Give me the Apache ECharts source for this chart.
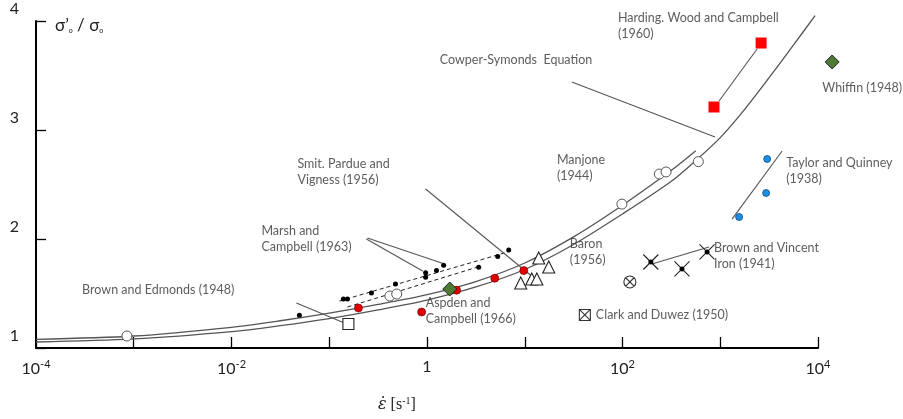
<!DOCTYPE html>
<html><head><meta charset="utf-8">
<script src="https://cdn.jsdelivr.net/npm/echarts@6/dist/echarts.min.js"></script>
<style>html,body{margin:0;padding:0;background:#fff}#c{width:903px;height:419px}</style>
</head><body><div id="c"></div>
<script>
// ---- tick labels ----
const xLabelExponents = [-4, -2, 0, 2, 4];
const yTicks = [1, 2, 3, 4];

// ---- Cowper-Symonds curves [strain rate, ratio] ----
const curveUpper = [[1e-4,1.08],[1e-3,1.11],[1e-2,1.19],[0.0316,1.25],[0.1,1.32],[0.316,1.40],[1,1.49],[3.16,1.61],[10,1.78],[31.6,2.02],[100,2.31],[316,2.63],[562,2.81]];
const curveLower = [[1e-4,1.055],[1e-3,1.083],[1e-2,1.15],[0.0316,1.205],[0.1,1.27],[0.316,1.35],[1,1.44],[3.16,1.56],[10,1.72],[31.6,1.95],[100,2.23],[316,2.53],[562,2.72],[1000,2.93],[1778,3.19],[3162,3.48],[5623,3.78],[9333,4.05]];

// ---- data points ----
const brownEdmonds = [[0.000851,1.11]];
const manjone = [[0.417,1.477],[0.490,1.495],[98.6,2.32],[238,2.596],[279,2.615],[597,2.71]];
const marshDots = [[0.0495,1.30],[0.1396,1.45],[0.1535,1.45],[0.270,1.505],[0.476,1.587],[0.968,1.69],[0.968,1.65],[1.25,1.71],[1.48,1.76],[3.38,1.74],[5.29,1.84],[6.85,1.90]];
const marshDashUpper = [[0.127,1.431],[6.70,1.881]];
const marshDashLower = [[0.1535,1.376],[3.30,1.743]];
const aspdenRed = [[0.199,1.367],[0.881,1.33],[2.01,1.53],[4.93,1.64],[9.77,1.71]];
const greenDiamonds = [[1.71,1.541],[13960,3.624]];
const baronTriangles = [[13.9,1.826],[17.6,1.743],[9.10,1.596],[11.8,1.633],[13.3,1.633]];
const openSquare = [[0.157,1.22]];
const circleCross = [[119,1.606]];
const boxCross = [[41.2,1.303]];
const brownVincent = [[195,1.789],[406,1.725],[733,1.881]];
const taylorQuinney = [[3020,2.734],[2946,2.422],[1560,2.202]];
const hardingSquares = [[2618,3.798],[863,3.211]];

// ---- leader lines ----
const leaderLines = [
  [[30.3,3.440],[885,2.936]],
  [[973,3.266],[2382,3.743]],
  [[0.968,2.459],[12.1,1.651]],
  [[0.246,2.009],[1.51,1.771]],
  [[0.240,2.0],[0.902,1.706]],
  [[0.0461,1.413],[0.143,1.229]],
  [[200,1.771],[767,1.927]],
  [[1321,2.183],[4295,2.807]]
];

// ---- annotation texts [strain rate, ratio, text] ----
const annotations = [
  [0.000296,1.532,'Brown and Edmonds (1948)'],
  [0.0202,2.0,'Marsh and\nCampbell (1963)'],
  [0.0472,2.615,'Smit. Pardue and\nVigness (1956)'],
  [1.35,3.642,'Cowper-Symonds  Equation'],
  [89.7,3.954,'Harding. Wood and Campbell\n(1960)'],
  [11040,3.385,'Whiffin (1948)'],
  [21.3,2.651,'Manjone\n(1944)'],
  [4720,2.624,'Taylor and Quinney\n(1938)'],
  [28.9,1.881,'Baron\n(1956)'],
  [863,1.844,'Brown and Vincent\nIron (1941)'],
  [0.968,1.339,'Aspden and\nCampbell (1966)'],
  [53.3,1.303,'Clark and Duwez (1950)']
];

const TXT = '#333';
const FONT = 'Lato, "Open Sans", sans-serif';

function sc(data, symbol, size, color, border, bw, z) {
  return {type:'scatter', data, symbol, symbolSize:size, clip:false, silent:true, z: z||3,
    itemStyle:{color, borderColor:border, borderWidth:bw, opacity:1}};
}
function ln(data, color, width, type, z) {
  return {type:'line', data, showSymbol:false, symbol:'none', clip:false, silent:true, z: z||2,
    lineStyle:{color, width, type: type||'solid'}};
}

const series = [];
series.push(Object.assign(ln(curveUpper,'#555',1.3),{smooth:0.3}));
series.push(Object.assign(ln(curveLower,'#555',1.3),{smooth:0.3}));
series.push(ln(marshDashUpper,'#222',1,[4,3]));
series.push(ln(marshDashLower,'#222',1,[4,3]));
leaderLines.forEach(l => series.push(ln(l,'#555',1.1)));

series.push(sc(brownEdmonds,'circle',10,'#fff','#555',1));
series.push(sc(manjone,'circle',10,'#fff','#555',1));
series.push(sc(marshDots,'circle',5,'#000','#000',0));
series.push(sc(aspdenRed,'circle',8,'#e00000','#600',0.6));
series.push(sc(greenDiamonds,'diamond',14,'#4e7a32','#223',1));
series.push(sc(baronTriangles,'triangle',12,'#fff','#222',1.1));
series.push(sc(openSquare,'rect',11,'#fff','#222',1.1));
series.push(sc(circleCross,'path://M10,5A5,5,0,1,1,0,5A5,5,0,1,1,10,5Z M1.5,1.5L8.5,8.5 M8.5,1.5L1.5,8.5',12,'rgba(0,0,0,0)','#333',1.1));
series.push(sc(boxCross,'path://M0,0H10V10H0Z M0,0L10,10 M10,0L0,10',11,'rgba(0,0,0,0)','#333',1.1));
series.push(sc(brownVincent,'path://M0,0L10,10 M10,0L0,10',15,'rgba(0,0,0,0)','#222',1.1));
series.push(sc(brownVincent,'circle',5,'#000','#000',0,4));
series.push(sc(taylorQuinney,'circle',7,'#1f8ee0','#0b4f8a',0.8));
series.push(sc(hardingSquares,'rect',11,'#ff0000','#ff0000',0));

series.push({type:'scatter', silent:true, clip:false, z:5, symbolSize:0.1,
  itemStyle:{color:'rgba(0,0,0,0)'},
  data: annotations.map(a => ({value:[a[0],a[1]], name:a[2]})),
  label:{show:true, position:'right', distance:0, formatter: p => p.name,
    fontFamily: FONT, fontSize:12.5, lineHeight:16, color:TXT, align:'left', verticalAlign:'middle'}
});

const chart = echarts.init(document.getElementById('c'), null, {renderer:'canvas'});
chart.setOption({
  backgroundColor:'#fff',
  animation:false,
  grid:{left:36, right:85, top:21, bottom:71, containLabel:false},
  xAxis:{type:'log', logBase:10, min:1e-4, max:1e4, splitNumber:8,
    axisLine:{onZero:false, lineStyle:{color:'#000', width:2}},
    axisTick:{inside:true, length:11, lineStyle:{color:'#000', width:1.3}},
    minorTick:{show:false}, splitLine:{show:false},
    axisLabel:{margin:11, color:'#222', fontFamily:FONT, fontSize:16,
      formatter: v => {
        const e = Math.round(Math.log10(v));
        if (!xLabelExponents.includes(e)) return '';
        if (e === 0) return '1';
        return '10{sup|' + e + '}';
      },
      rich:{sup:{fontSize:11, verticalAlign:'top', padding:[0,0,8,0], fontFamily:FONT, color:'#222'}}
    }
  },
  yAxis:{type:'value', min:yTicks[0], max:yTicks[yTicks.length-1], interval:1,
    axisLine:{onZero:false, lineStyle:{color:'#000', width:2}},
    axisTick:{inside:true, length:10, lineStyle:{color:'#000', width:1.3}},
    splitLine:{show:false},
    axisLabel:{margin:17, color:'#222', fontFamily:FONT, fontSize:16, verticalAlign:'bottom', padding:[0,0,4,0],
      formatter: v => yTicks.includes(v) ? String(v) : ''}
  },
  graphic:[
    {type:'text', left:55, top:17, style:{
      text:'σ’{o|o} / σ{o|o}', fontFamily:FONT, fontSize:17, fill:'#222',
      rich:{o:{fontSize:7, verticalAlign:'bottom', fontFamily:FONT, fill:'#222', padding:[6,0,0,0]}}}},
    {type:'text', left:378, top:396, style:{
      text:'{e|ε̇} [s{sup|-1}]', fontFamily:'"Liberation Serif", "DejaVu Serif", serif', fontSize:16, fill:'#222',
      rich:{e:{fontFamily:'"DejaVu Serif", serif', fontStyle:'italic', fontSize:16, fill:'#222'},
            sup:{fontSize:10, verticalAlign:'top', padding:[0,0,8,0], fontFamily:'"Liberation Serif", serif', fill:'#222'}}}}
  ],
  series
});
</script></body></html>
